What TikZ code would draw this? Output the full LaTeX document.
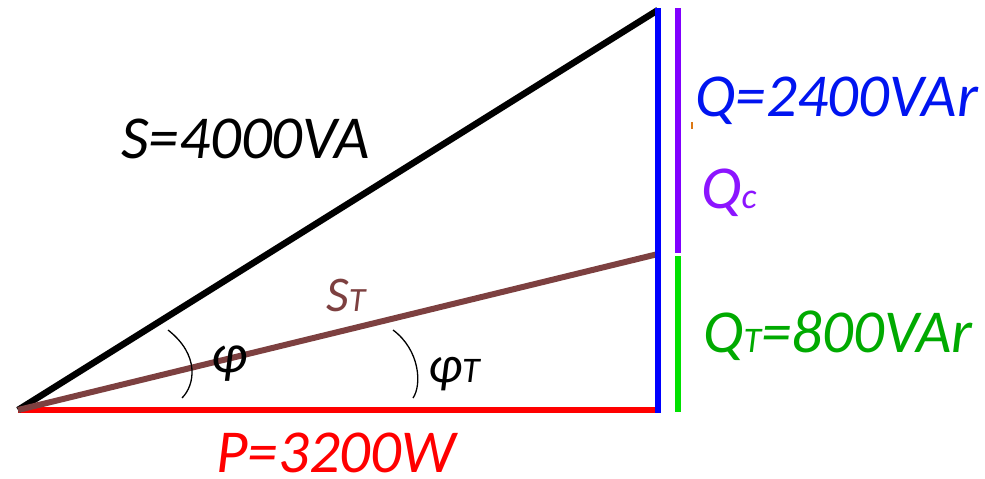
\documentclass[tikz,border=0pt]{standalone}
\usepackage{fontspec}
\setmainfont{Carlito}
\definecolor{cblue}{RGB}{0,0,255}
\definecolor{cred}{RGB}{255,0,0}
\definecolor{cbrown}{RGB}{125,64,64}
\definecolor{cpurple}{RGB}{128,0,255}
\definecolor{cgreen}{RGB}{0,224,0}
\definecolor{tgreen}{RGB}{0,170,0}
\definecolor{tpurple}{RGB}{140,20,255}
\definecolor{tblue}{RGB}{0,20,240}
\definecolor{corange}{RGB}{220,120,20}
\newcommand\smallsub[2][34]{{\fontsize{#1}{#1}\selectfont #2}}
\begin{document}
\begin{tikzpicture}[x=1pt,y=-1pt,
  vec/.style={line width=6.5pt},
  lbl/.style={inner sep=0pt, anchor=base west, font=\fontsize{61}{72}\selectfont\itshape},
  anglemark/.style={line width=1.3pt, black}]
\useasboundingbox (0,0) rectangle (985,479);
\coordinate (O) at (18,410);
\coordinate (P) at (658,410);
\coordinate (T) at (658,8);
\coordinate (Tb) at (658,413);
\coordinate (M) at (658,254);
\coordinate (Ua) at (678,8);
\coordinate (Ub) at (678,253);
\coordinate (La) at (678,256);
\coordinate (Lb) at (678,412);
% vectors
\draw[vec, cred] (O) -- (P);
\draw[vec, black] (O) -- (658,10);
\draw[vec, cbrown, line width=6pt] (O) -- (M);
\draw[vec, cblue] (T) -- (Tb);
\draw[vec, cpurple] (Ua) -- (Ub);
\draw[vec, cgreen] (La) -- (Lb);
% angle marks
\draw[anglemark] (168,330) .. controls (200,355) and (195,385) .. (182,398);
\draw[anglemark] (393,330) .. controls (420,350) and (422,385) .. (413,398);
% small tick
\draw[corange, line width=1.2pt] (692,122) -- (692,129);
% labels
\node[lbl, black] (lS) at (121,158) {S=4000VA};
\node[lbl, tblue] (lQ) at (695,116) {Q=2400VAr};
\node[lbl, tpurple] (lQc) at (701,208) {Q\smallsub[36]{c}};
\node[lbl, tgreen] (lQT) at (703,352) {Q\smallsub[36]{T}=800VAr};
\node[lbl, cred] (lP) at (216,472) {P=3200W};
\node[lbl, cbrown, font=\fontsize{50}{60}\selectfont\itshape] (lST) at (326,311) {S\smallsub[34]{T}};
\node[lbl, black, font=\fontsize{55}{60}\selectfont\itshape] (lphi) at (211,372) {φ};
\node[lbl, black, font=\fontsize{52}{60}\selectfont\itshape] (lphiT) at (428,382) {φ\smallsub[36]{T}};
\end{tikzpicture}
\end{document}
